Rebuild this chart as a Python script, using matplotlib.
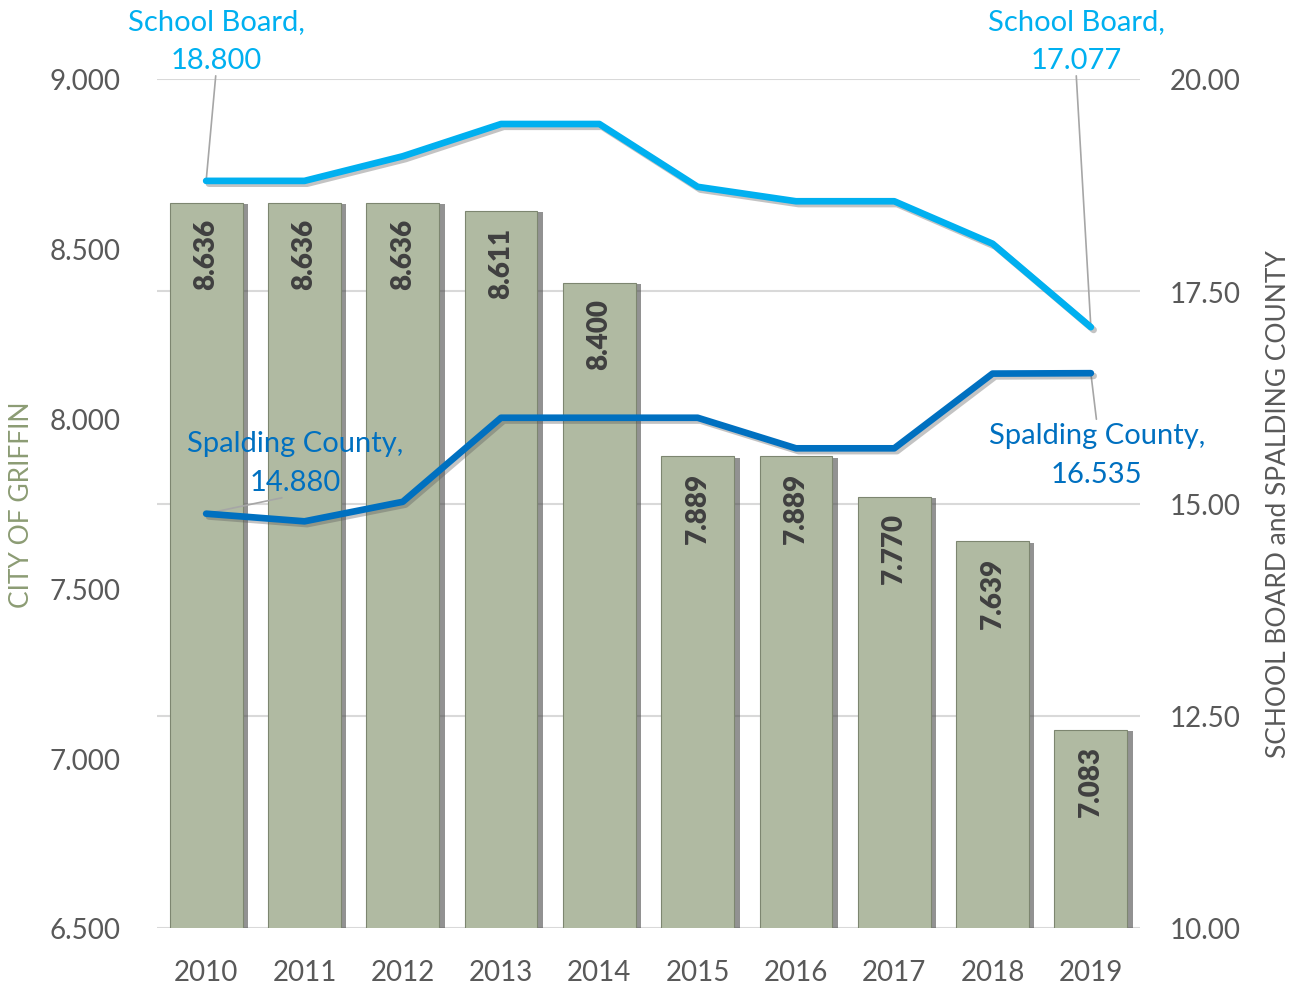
import matplotlib
matplotlib.use("Agg")
import matplotlib.pyplot as plt
import matplotlib.patheffects as pe

plt.rcParams['font.family'] = ['Lato', 'DejaVu Sans']

years = ['2010', '2011', '2012', '2013', '2014', '2015', '2016', '2017', '2018', '2019']
city_griffin = [8.636, 8.636, 8.636, 8.611, 8.400, 7.889, 7.889, 7.770, 7.639, 7.083]
school_board = [18.800, 18.80, 19.09, 19.47, 19.47, 18.73, 18.56, 18.56, 18.06, 17.077]
spalding_county = [14.880, 14.79, 15.02, 16.01, 16.01, 16.01, 15.65, 15.65, 16.53, 16.535]

left_ticks = [6.5, 7.0, 7.5, 8.0, 8.5, 9.0]
right_ticks = [10.0, 12.5, 15.0, 17.5, 20.0]

BAR = '#b0baa2'
SB = '#00b0f0'
SC = '#0070c0'
TICK = '#595959'

fig = plt.figure(figsize=(12.99, 9.87), dpi=100)
ax = fig.add_axes([157/1299, 1-929/987, (1140-157)/1299, (929-80)/987])
ax2 = ax.twinx()

x = list(range(len(years)))
bars = ax.bar(x, city_griffin, width=0.74, color=BAR, edgecolor='#7d8670', linewidth=0.8,
              zorder=2)
for b in bars:
    b.set_path_effects([pe.SimplePatchShadow(offset=(4, -1), shadow_rgbFace='#4a4a4a', alpha=0.6),
                        pe.Normal()])
for xi, v in zip(x, city_griffin):
    ax.annotate(f"{v:.3f}", (xi, v), xytext=(0, -11), textcoords='offset points',
                rotation=90, ha='center', va='top', fontsize=20, fontweight='heavy',
                color='#404040', zorder=3)

ax.set_ylim(6.5, 9.0)
ax.set_xlim(-0.5, 9.5)
ax.set_yticks(left_ticks)
ax.set_yticklabels([f"{t:.3f}" for t in left_ticks])
ax.set_xticks(x)
ax.set_xticklabels(years)
ax.tick_params(axis='y', length=0, pad=26.5, labelsize=20, labelcolor=TICK)
ax.tick_params(axis='x', length=0, pad=22, labelsize=20, labelcolor=TICK)
for s in ax.spines.values():
    s.set_visible(False)
ax.set_ylabel('CITY OF GRIFFIN', fontsize=19, color='#8c9c74')
ax.yaxis.set_label_coords((34 - 157) / 983, 0.5)

ax2.set_ylim(10, 20)
ax2.set_yticks(right_ticks)
ax2.set_yticklabels([f"{t:.2f}" for t in right_ticks])
ax2.tick_params(axis='y', length=0, pad=21.6, labelsize=20, labelcolor=TICK)
for s in ax2.spines.values():
    s.set_visible(False)
ax2.grid(False)
ax.set_zorder(1)
ax2.set_zorder(2)
ax2.patch.set_visible(False)
ax2.set_ylabel('SCHOOL BOARD and SPALDING COUNTY', fontsize=19, color=TICK)
ax2.yaxis.set_label_coords((1266 - 157) / 983, 0.5)

# horizontal grid lines follow the right-axis ticks, drawn beneath the bars
for t in right_ticks:
    yl = 6.5 + (t - 10) / 10 * 2.5
    ax.axhline(yl, color='#d9d9d9', linewidth=1.5, zorder=0)

shadow = [pe.SimpleLineShadow(offset=(2, -2), shadow_color='#555555', alpha=0.35), pe.Normal()]
ax2.plot(x, school_board, color=SB, linewidth=4.8, solid_capstyle='round',
         solid_joinstyle='round', path_effects=shadow, zorder=4)
ax2.plot(x, spalding_county, color=SC, linewidth=4.8, solid_capstyle='round',
         solid_joinstyle='round', path_effects=shadow, zorder=4)

arrow = dict(arrowstyle='-', color='#a6a6a6', linewidth=1.2, shrinkA=0, shrinkB=0)
common = dict(textcoords='data', ha='center', multialignment='center', fontsize=21,
              annotation_clip=False, linespacing=1.6)
ax2.annotate(f"School Board,\n{school_board[0]:.3f}", xy=(0, school_board[0]),
             xytext=(0.10, 20.07), va='bottom', color=SB,
             arrowprops=dict(arrow, relpos=(0.5, 0)), **common)
ax2.annotate(f"School Board,\n{school_board[-1]:.3f}", xy=(9, school_board[-1]),
             xytext=(8.85, 20.07), va='bottom', color=SB,
             arrowprops=dict(arrow, relpos=(0.5, 0)), **common)
ax2.annotate(f"Spalding County,\n{spalding_county[0]:.3f}", xy=(0, spalding_county[0]),
             xytext=(0.905, 15.1), va='bottom', color=SC,
             arrowprops=dict(arrow, relpos=(0.5, 0)), **common)
ax2.annotate(f"Spalding County,\n{spalding_county[-1]:.3f}", xy=(9, spalding_county[-1]),
             xytext=(9.06, 15.96), va='top', color=SC,
             arrowprops=dict(arrow, relpos=(0.5, 1)), **common)

fig.savefig('out.png', dpi=100)
